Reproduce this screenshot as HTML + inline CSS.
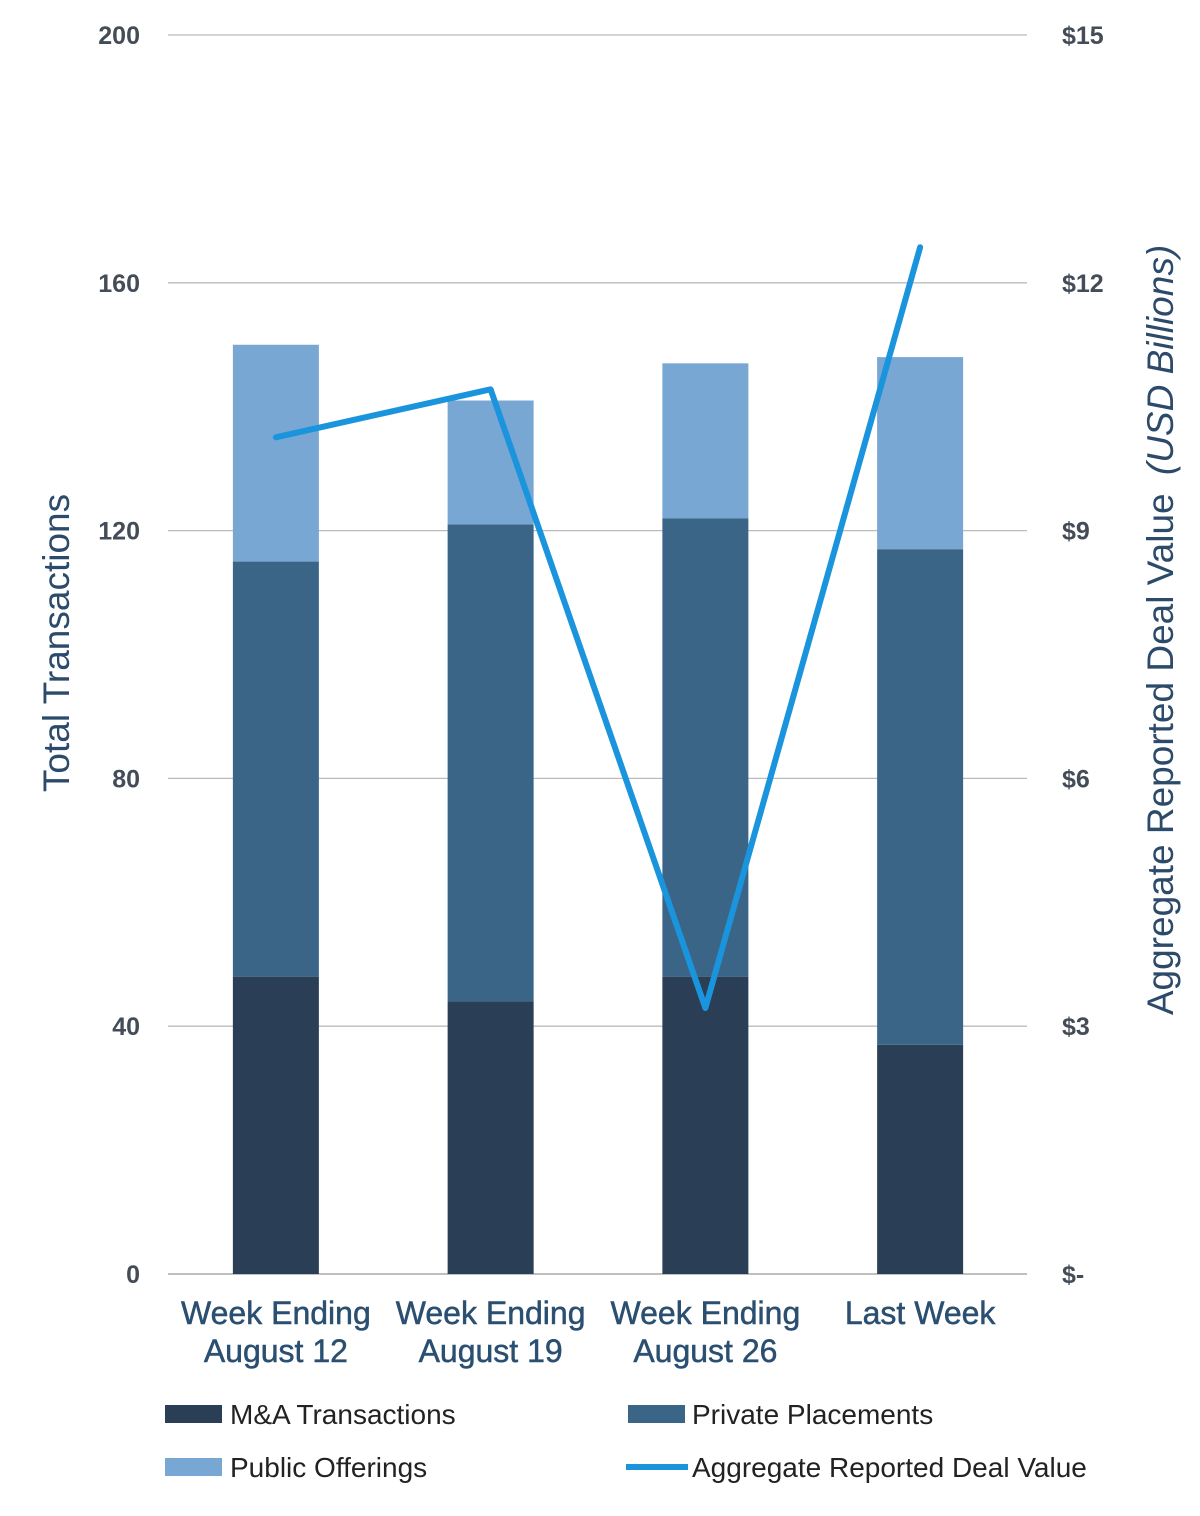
<!DOCTYPE html>
<html><head><meta charset="utf-8"><style>
body{margin:0;background:#fff;}
svg text{font-family:"Liberation Sans",sans-serif;}
</style></head><body>
<svg id="chart" width="1200" height="1511" xmlns="http://www.w3.org/2000/svg">
<g id="grid"></g><g id="bars"></g><g id="line"></g><g id="labels"></g>
<text transform="translate(69,643) rotate(-90)" text-anchor="middle" font-size="37" fill="#2c4a6a">Total Transactions</text>
<text transform="translate(1173,630) rotate(-90)" text-anchor="middle" font-size="37" fill="#2c4a6a">Aggregate Reported Deal Value <tspan font-style="italic" dx="8">(USD Billions)</tspan></text>
<g>
<rect x="165" y="1405" width="57" height="18" fill="#2a3f55"/>
<text x="230" y="1424" font-size="28" fill="#222">M&amp;A Transactions</text>
<rect x="628" y="1405" width="57" height="18" fill="#3a6587"/>
<text x="692" y="1424" font-size="28" fill="#222">Private Placements</text>
<rect x="165" y="1458" width="57" height="18" fill="#77a7d2"/>
<text x="230" y="1477" font-size="28" fill="#222">Public Offerings</text>
<line x1="626" y1="1467" x2="688" y2="1467" stroke="#1a94dc" stroke-width="6"/>
<text x="692" y="1477" font-size="28" fill="#222">Aggregate Reported Deal Value</text>
</g>
</svg>
<script>
const categories=[["Week Ending","August 12"],["Week Ending","August 19"],["Week Ending","August 26"],["Last Week"]];
const maValues=[48,44,48,37];
const ppValues=[67,77,74,80];
const poValues=[35,20,25,31];
const dealValues=[10.13,10.71,3.22,12.43];
const leftTicks=[0,40,80,120,160,200];
const rightTicks=["$-","$3","$6","$9","$12","$15"];
const NS="http://www.w3.org/2000/svg";
const x0=168,x1=1027,yBase=1274,yTop=35;
const yL=v=>yBase-(v/200)*(yBase-yTop);
const yR=v=>yBase-(v/15)*(yBase-yTop);
const bw=(x1-x0)/categories.length;
const xc=i=>x0+bw*(i+0.5)+0.5;
function mk(tag,attrs,parent){const e=document.createElementNS(NS,tag);for(const k in attrs)e.setAttribute(k,attrs[k]);document.getElementById(parent).appendChild(e);return e;}
leftTicks.forEach((t,i)=>{
 const l=mk('line',{x1:x0,x2:x1,y1:yL(t),y2:yL(t),stroke:i==0?'#999':'#bbb','stroke-width':1.3},'grid');
 
 
 const a=mk('text',{x:140,y:yL(t)+9,'text-anchor':'end','font-size':25,'font-weight':'bold',fill:'#444c58'},'labels');a.textContent=t;
 
 
 const b=mk('text',{x:1062,y:yL(t)+9,'font-size':25,'font-weight':'bold',fill:'#444c58'},'labels');b.textContent=rightTicks[i];
 
 
});
const W=86;
categories.forEach((c,i)=>{
 const cx=xc(i);
 let base=0;
 [[maValues,'#2a3f55','bar-ma'],[ppValues,'#3a6587','bar-pp'],[poValues,'#77a7d2','bar-po']].forEach(([arr,col,nm])=>{
  const r=mk('rect',{x:cx-W/2,y:yL(base+arr[i]),width:W,height:yL(base)-yL(base+arr[i]),fill:col},'bars');
  
  
  base+=arr[i];
 });
 c.forEach((ln,j)=>{
  const t=mk('text',{x:cx,y:1324+j*38,'text-anchor':'middle','font-size':32,fill:'#2a4f70','stroke':'#2a4f70','stroke-width':0.5},'labels');t.textContent=ln;
  
  
 });
});
const pts=dealValues.map((v,i)=>xc(i)+','+yR(v)).join(' ');
const pl=mk('polyline',{points:pts,fill:'none',stroke:'#1a94dc','stroke-width':6,'stroke-linejoin':'round','stroke-linecap':'round'},'line');


</script>
</body></html>
